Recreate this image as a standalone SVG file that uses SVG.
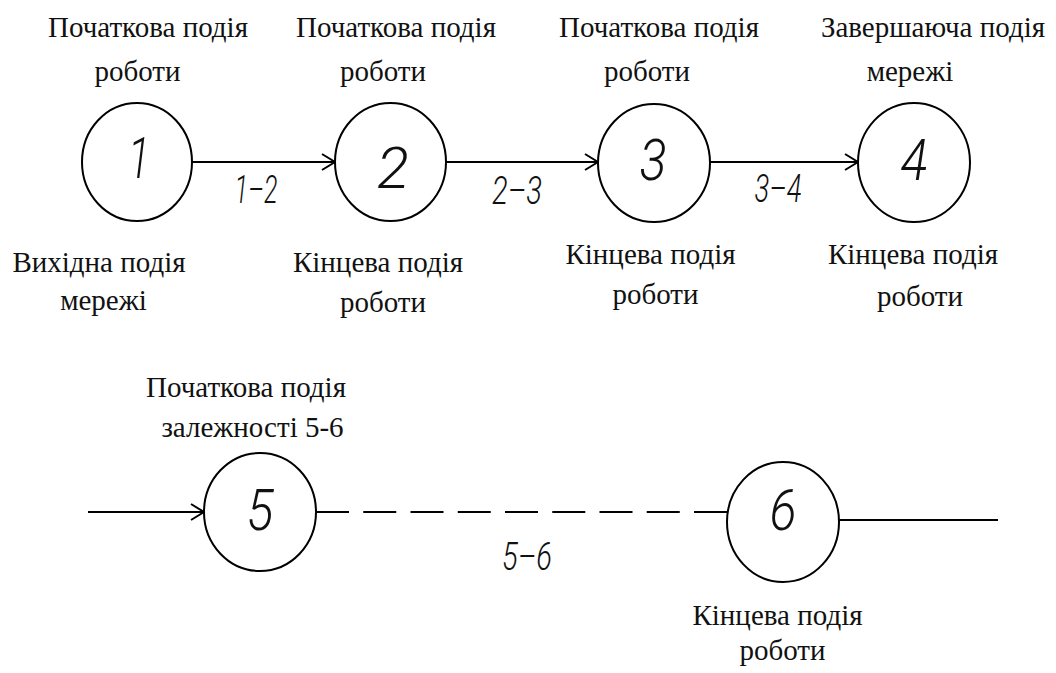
<svg xmlns="http://www.w3.org/2000/svg" width="1056" height="673" viewBox="0 0 1056 673">
<style>
.node{fill:#fff;stroke:#000;stroke-width:2}
.lbl{font-family:"Liberation Serif","Times New Roman",serif;font-size:29px;fill:#111;text-anchor:middle}
.num{font-family:Roboto,Lato,sans-serif;font-style:italic;font-weight:300;font-size:57px;fill:#111;text-anchor:middle}
.elbl{font-family:Roboto,Lato,sans-serif;font-style:italic;font-weight:300;font-size:38px;fill:#111;text-anchor:middle}
.edge{stroke:#000;stroke-width:2;fill:none}
</style>
<defs>
<marker id="arr" markerUnits="userSpaceOnUse" markerWidth="20" markerHeight="20" refX="0" refY="0" viewBox="-15 -10 17 20" orient="auto" overflow="visible">
<path d="M-13,-8 L0,0 L-13,8" fill="none" stroke="#000" stroke-width="2"/>
</marker>
</defs>
<rect width="1056" height="673" fill="#fff"/>
<g id="connectors">
<line class="edge" x1="192" y1="162" x2="335" y2="162" marker-end="url(#arr)"/>
<line class="edge" x1="446" y1="162" x2="598" y2="162" marker-end="url(#arr)"/>
<line class="edge" x1="710" y1="162" x2="858" y2="162" marker-end="url(#arr)"/>
<line class="edge" x1="88" y1="512" x2="204" y2="512" marker-end="url(#arr)"/>
<line class="edge" x1="316" y1="512" x2="727" y2="512" stroke-dasharray="33 14.25"/>
<line class="edge" x1="839" y1="520" x2="998" y2="520"/>
<text class="elbl" x="256" y="203" textLength="43" lengthAdjust="spacingAndGlyphs">1–2</text>
<text class="elbl" x="517" y="204" textLength="50" lengthAdjust="spacingAndGlyphs">2–3</text>
<text class="elbl" x="778" y="202" textLength="47" lengthAdjust="spacingAndGlyphs">3–4</text>
<text class="elbl" x="527" y="570" textLength="50" lengthAdjust="spacingAndGlyphs">5–6</text>
</g>
<g id="node1">
<ellipse class="node" cx="137" cy="162" rx="55" ry="59"/>
<text class="num" x="139" y="178" textLength="22" lengthAdjust="spacingAndGlyphs">1</text>
<text class="lbl" x="148" y="37">Початкова подія</text>
<text class="lbl" x="137.5" y="81">роботи</text>
<text class="lbl" x="99" y="272">Вихідна подія</text>
<text class="lbl" x="103.5" y="310">мережі</text>
</g>
<g id="node2">
<ellipse class="node" cx="390.5" cy="162" rx="55.5" ry="59"/>
<text class="num" x="393" y="188" textLength="32" lengthAdjust="spacingAndGlyphs">2</text>
<text class="lbl" x="396" y="37">Початкова подія</text>
<text class="lbl" x="383" y="81">роботи</text>
<text class="lbl" x="378" y="272">Кінцева подія</text>
<text class="lbl" x="383" y="312">роботи</text>
</g>
<g id="node3">
<ellipse class="node" cx="654" cy="163" rx="56" ry="59"/>
<text class="num" x="653" y="180" textLength="27" lengthAdjust="spacingAndGlyphs">3</text>
<text class="lbl" x="659" y="37">Початкова подія</text>
<text class="lbl" x="647" y="81">роботи</text>
<text class="lbl" x="650.5" y="264">Кінцева подія</text>
<text class="lbl" x="655.5" y="304">роботи</text>
</g>
<g id="node4">
<ellipse class="node" cx="914" cy="162.5" rx="56" ry="59.5"/>
<text class="num" x="914" y="180" textLength="27" lengthAdjust="spacingAndGlyphs">4</text>
<text class="lbl" x="933" y="37">Завершаюча подія</text>
<text class="lbl" x="910" y="81">мережі</text>
<text class="lbl" x="913" y="264">Кінцева подія</text>
<text class="lbl" x="920" y="306">роботи</text>
</g>
<g id="node5">
<ellipse class="node" cx="260" cy="512" rx="56" ry="59"/>
<text class="num" x="260" y="530" textLength="27" lengthAdjust="spacingAndGlyphs">5</text>
<text class="lbl" x="246" y="397">Початкова подія</text>
<text class="lbl" x="252.5" y="437">залежності 5-6</text>
</g>
<g id="node6">
<ellipse class="node" cx="783" cy="522" rx="56" ry="60"/>
<text class="num" x="783" y="530" textLength="27" lengthAdjust="spacingAndGlyphs">6</text>
<text class="lbl" x="777.5" y="625">Кінцева подія</text>
<text class="lbl" x="782.5" y="660">роботи</text>
</g>
</svg>
